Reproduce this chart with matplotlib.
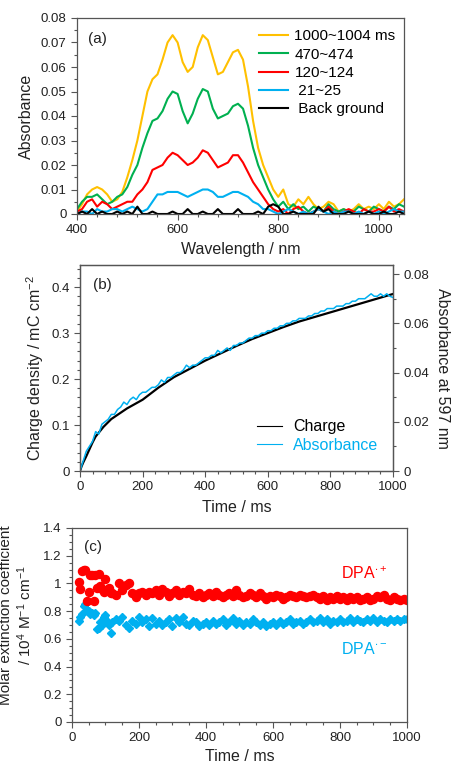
import numpy as np
import matplotlib
matplotlib.use('Agg')
import matplotlib.pyplot as plt
from matplotlib.ticker import MultipleLocator

plt.rcParams['font.family'] = ['Liberation Sans', 'DejaVu Sans']
plt.rcParams['mathtext.fontset'] = 'custom'
plt.rcParams['mathtext.rm'] = 'Liberation Sans'
plt.rcParams['mathtext.it'] = 'Liberation Sans'
plt.rcParams['mathtext.bf'] = 'Liberation Sans'

TXT = '#222222'
SPINE = '#555555'

# ---- (a) spectra, every 10 nm ----
wl = list(range(400, 1051, 10))
abs_1000 = [0.001, 0.004, 0.008, 0.010, 0.011, 0.010, 0.008, 0.005, 0.006, 0.009,
            0.015, 0.022, 0.030, 0.040, 0.050, 0.055, 0.057, 0.063, 0.070, 0.073,
            0.070, 0.062, 0.058, 0.060, 0.068, 0.073, 0.071, 0.064, 0.057, 0.058,
            0.062, 0.066, 0.067, 0.063, 0.052, 0.038, 0.027, 0.020, 0.015, 0.010,
            0.007, 0.010, 0.004, 0.003, 0.006, 0.004, 0.007, 0.004, 0.002, 0.003,
            0.005, 0.004, 0.001, 0.002, 0.001, 0.002, 0.004, 0.002, 0.003, 0.002,
            0.004, 0.002, 0.005, 0.003, 0.004, 0.006]
abs_470 = [0.002, 0.005, 0.007, 0.007, 0.008, 0.006, 0.004, 0.005, 0.007, 0.008,
           0.011, 0.016, 0.020, 0.027, 0.033, 0.038, 0.039, 0.042, 0.047, 0.050,
           0.049, 0.042, 0.037, 0.041, 0.047, 0.051, 0.050, 0.043, 0.039, 0.040,
           0.041, 0.044, 0.045, 0.043, 0.036, 0.027, 0.020, 0.015, 0.010, 0.006,
           0.003, 0.005, 0.002, 0.004, 0.002, 0.003, 0.001, 0.003, 0.002, 0.001,
           0.004, 0.002, 0.001, 0.002, 0.001, 0.001, 0.003, 0.002, 0.001, 0.003,
           0.002, 0.001, 0.003, 0.002, 0.004, 0.003]
abs_120 = [0.001, 0.002, 0.005, 0.006, 0.003, 0.005, 0.004, 0.002, 0.003, 0.004,
           0.005, 0.005, 0.008, 0.010, 0.013, 0.018, 0.019, 0.020, 0.023, 0.025,
           0.024, 0.022, 0.020, 0.021, 0.023, 0.026, 0.025, 0.022, 0.019, 0.020,
           0.021, 0.024, 0.024, 0.021, 0.017, 0.013, 0.010, 0.007, 0.004, 0.002,
           0.001, 0.002, 0.000, 0.002, 0.003, 0.001, 0.000, 0.001, 0.002, 0.001,
           0.003, 0.001, 0.000, 0.001, 0.002, 0.001, 0.000, 0.002, 0.001, 0.001,
           0.002, 0.001, 0.003, 0.001, 0.002, 0.001]
abs_21 = [0.000, 0.001, 0.001, 0.000, 0.002, 0.001, 0.001, 0.002, 0.002, 0.001,
          0.002, 0.003, 0.002, 0.001, 0.002, 0.005, 0.008, 0.008, 0.009, 0.009,
          0.009, 0.008, 0.007, 0.008, 0.009, 0.010, 0.010, 0.009, 0.007, 0.007,
          0.008, 0.009, 0.009, 0.008, 0.007, 0.005, 0.004, 0.002, 0.002, 0.001,
          0.000, 0.001, 0.002, 0.001, 0.000, 0.001, 0.000, 0.001, 0.002, 0.001,
          0.000, 0.001, 0.000, 0.001, 0.001, 0.000, 0.001, 0.000, 0.001, 0.000,
          0.001, 0.000, 0.001, 0.002, 0.001, 0.001]
abs_bg = [0.000, 0.001, 0.000, 0.002, 0.000, 0.001, 0.000, 0.000, 0.001, 0.000,
          0.001, 0.000, 0.003, 0.000, 0.000, 0.001, 0.000, 0.000, 0.000, 0.001,
          0.000, 0.000, 0.002, 0.000, 0.000, 0.001, 0.000, 0.000, 0.002, 0.000,
          0.000, 0.000, 0.002, 0.000, 0.000, 0.000, 0.001, 0.000, 0.003, 0.004,
          0.003, 0.000, 0.000, 0.001, 0.000, 0.000, 0.000, 0.000, 0.003, 0.001,
          0.002, 0.000, 0.000, 0.000, 0.001, 0.000, 0.000, 0.000, 0.001, 0.000,
          0.000, 0.001, 0.000, 0.000, 0.001, 0.000]

# ---- (b) charge and absorbance at 597 nm ----
t_charge = [0, 5, 10, 20, 30, 40, 50, 75, 100, 150, 200, 250, 300, 350, 400,
            450, 500, 550, 600, 650, 700, 750, 800, 850, 900, 950, 1000]
charge = [0, 0.010, 0.018, 0.032, 0.047, 0.062, 0.075, 0.096, 0.113, 0.136,
          0.155, 0.181, 0.204, 0.222, 0.240, 0.256, 0.272, 0.287, 0.300, 0.313,
          0.325, 0.335, 0.345, 0.355, 0.365, 0.375, 0.385]
t_abs = list(range(0, 1001, 10))
abs597 = [0.000, 0.004, 0.008, 0.010, 0.012, 0.016, 0.015, 0.019, 0.020, 0.021,
          0.023, 0.023, 0.025, 0.026, 0.028, 0.027, 0.029, 0.030, 0.029, 0.031,
          0.032, 0.032, 0.033, 0.034, 0.034, 0.035, 0.037, 0.036, 0.038, 0.038,
          0.039, 0.040, 0.040, 0.041, 0.043, 0.042, 0.043, 0.043, 0.044, 0.045,
          0.046, 0.046, 0.047, 0.047, 0.049, 0.048, 0.049, 0.050, 0.049, 0.051,
          0.051, 0.052, 0.052, 0.053, 0.054, 0.054, 0.055, 0.055, 0.056, 0.056,
          0.057, 0.057, 0.058, 0.058, 0.059, 0.059, 0.060, 0.060, 0.061, 0.061,
          0.062, 0.062, 0.062, 0.063, 0.063, 0.064, 0.064, 0.065, 0.065, 0.066,
          0.066, 0.066, 0.067, 0.067, 0.067, 0.068, 0.068, 0.069, 0.069, 0.070,
          0.070, 0.070, 0.071, 0.072, 0.071, 0.071, 0.072, 0.071, 0.072, 0.071,
          0.0705]

# ---- (c) molar extinction coefficients ----
t_early = [20, 25, 30, 35, 40, 45, 50, 55, 60, 65, 70, 75, 80, 85, 90, 95,
           100, 105, 110, 115, 120, 130, 140, 150, 160, 170, 180, 190]
t_late = list(range(200, 1001, 10))
eps_cat = [1.01, 0.96, 1.09, 1.10, 1.10, 0.87, 0.94, 1.06, 1.06, 0.87, 1.06, 0.97,
           1.07, 0.98, 0.96, 0.94, 1.03, 0.95, 0.97, 0.93, 0.93, 0.92, 1.00, 0.95,
           0.99, 1.00, 0.93, 0.90,
           0.93, 0.94, 0.92, 0.94, 0.93, 0.95, 0.92, 0.96, 0.94, 0.91,
           0.93, 0.95, 0.92, 0.94, 0.93, 0.96, 0.92, 0.91, 0.93, 0.90,
           0.92, 0.93, 0.91, 0.94, 0.92, 0.90, 0.92, 0.93, 0.91, 0.95,
           0.92, 0.90, 0.91, 0.93, 0.92, 0.90, 0.93, 0.91, 0.89, 0.91,
           0.90, 0.92, 0.91, 0.89, 0.90, 0.92, 0.91, 0.90, 0.92, 0.91,
           0.90, 0.91, 0.92, 0.90, 0.89, 0.91, 0.88, 0.90, 0.89, 0.91,
           0.89, 0.90, 0.88, 0.90, 0.89, 0.90, 0.88, 0.89, 0.90, 0.88,
           0.89, 0.91, 0.90, 0.92, 0.89, 0.88, 0.90, 0.89, 0.88, 0.89, 0.88]
eps_an = [0.73, 0.76, 0.78, 0.84, 0.85, 0.81, 0.80, 0.78, 0.79, 0.77, 0.79, 0.67,
          0.68, 0.72, 0.70, 0.76, 0.77, 0.73, 0.70, 0.64, 0.72, 0.74, 0.73, 0.76,
          0.70, 0.68, 0.73, 0.71,
          0.76, 0.72, 0.74, 0.69, 0.75, 0.71, 0.73, 0.70, 0.72, 0.74,
          0.69, 0.75, 0.72, 0.76, 0.71, 0.70, 0.73, 0.72, 0.69, 0.71,
          0.72, 0.70, 0.73, 0.71, 0.72, 0.74, 0.70, 0.72, 0.75, 0.71,
          0.73, 0.70, 0.72, 0.71, 0.74, 0.72, 0.70, 0.72, 0.69, 0.71,
          0.72, 0.70, 0.73, 0.71, 0.72, 0.74, 0.71, 0.72, 0.73, 0.71,
          0.72, 0.74, 0.72, 0.73, 0.75, 0.72, 0.74, 0.71, 0.73, 0.72,
          0.74, 0.72, 0.73, 0.75, 0.72, 0.74, 0.73, 0.72, 0.74, 0.73,
          0.75, 0.72, 0.74, 0.73, 0.72, 0.74, 0.73, 0.74, 0.73, 0.74, 0.74]
t_eps = t_early + t_late

W, H = 452, 766
fig = plt.figure(figsize=(W / 100, H / 100), dpi=100)

def box(l, r, t, b):
    return [l / W, 1 - b / H, (r - l) / W, (b - t) / H]

def style(ax):
    for s in ax.spines.values():
        s.set_color(SPINE)
        s.set_linewidth(0.9)
    ax.tick_params(which='both', direction='out', colors=SPINE, labelcolor=TXT,
                   labelsize=9.5, width=0.8)
    ax.tick_params(which='major', length=4)
    ax.tick_params(which='minor', length=2.5)

# (a)
ax1 = fig.add_axes(box(77, 404, 18, 214))
ax1.plot(wl, abs_1000, color='#FFC000', lw=1.5, label='1000~1004 ms')
ax1.plot(wl, abs_470, color='#00B050', lw=1.5, label='470~474')
ax1.plot(wl, abs_120, color='#FF0000', lw=1.5, label='120~124')
ax1.plot(wl, abs_21, color='#00B0F0', lw=1.5, label=' 21~25')
ax1.plot(wl, abs_bg, color='black', lw=1.5, label=' Back ground')
ax1.set_xlim(400, 1050)
ax1.set_ylim(0, 0.08)
ax1.xaxis.set_major_locator(MultipleLocator(200))
ax1.xaxis.set_minor_locator(MultipleLocator(40))
ax1.yaxis.set_major_locator(MultipleLocator(0.01))
ax1.yaxis.set_minor_locator(MultipleLocator(0.005))
ax1.set_yticklabels(['0' if v == 0 else f'{v:.2f}' for v in ax1.get_yticks()])
style(ax1)
ax1.set_xlabel('Wavelength / nm', fontsize=11.5, color=TXT, labelpad=4)
ax1.set_ylabel('Absorbance', fontsize=11.5, color=TXT, labelpad=5)
ax1.text(0.035, 0.93, '(a)', transform=ax1.transAxes, fontsize=11, color=TXT,
         va='top')
ax1.legend(loc='upper right', frameon=False, fontsize=11, handlelength=1.9,
           handletextpad=0.4, labelspacing=0.28, borderaxespad=0.15,
           bbox_to_anchor=(1.0, 0.985))

# (b)
ax2 = fig.add_axes(box(80, 393, 265, 471))
ax2.plot(t_charge, charge, color='black', lw=1.6, label='Charge')
ax2.set_xlim(0, 1000)
ax2.set_ylim(0, 0.448)
ax2.xaxis.set_major_locator(MultipleLocator(200))
ax2.xaxis.set_minor_locator(MultipleLocator(40))
ax2.yaxis.set_major_locator(MultipleLocator(0.1))
ax2.yaxis.set_minor_locator(MultipleLocator(0.02))
ax2.set_yticklabels(['0' if v == 0 else f'{v:.1f}' for v in ax2.get_yticks()])
style(ax2)
ax2.set_xlabel('Time / ms', fontsize=11.5, color=TXT, labelpad=5)
ax2.set_ylabel('Charge density / mC cm$^{-2}$', fontsize=11.5, color=TXT,
               labelpad=4)
ax2.text(0.04, 0.935, '(b)', transform=ax2.transAxes, fontsize=11, color=TXT,
         va='top')
ax2r = ax2.twinx()
ax2r.plot(t_abs, abs597, color='#00B0F0', lw=1.1, label='Absorbance')
ax2r.set_ylim(0, 0.0837)
ax2r.yaxis.set_major_locator(MultipleLocator(0.02))
ax2r.yaxis.set_minor_locator(MultipleLocator(0.01))
ax2r.set_yticklabels(['0' if v == 0 else f'{v:.2f}' for v in ax2r.get_yticks()])
style(ax2r)
ax2r.set_ylabel('Absorbance at 597 nm', fontsize=11.5, color=TXT, rotation=270,
                labelpad=15)
h1, l1 = ax2.get_legend_handles_labels()
h2, l2 = ax2r.get_legend_handles_labels()
leg = ax2r.legend(h1 + h2, l1 + l2, loc='lower right', frameon=False,
                  fontsize=11.5, handlelength=1.6, handletextpad=0.7,
                  labelspacing=0.2, bbox_to_anchor=(1.0, 0.02))
for h in leg.get_lines():
    h.set_linewidth(0.8)
leg.get_texts()[0].set_color('black')
leg.get_texts()[1].set_color('#00B0F0')

# (c)
ax3 = fig.add_axes(box(72, 407, 528, 722))
ax3.plot(t_eps, eps_an, linestyle='none', marker='D', ms=4.2, color='#00B0F0',
         mec='#00B0F0')
ax3.plot(t_eps, eps_cat, linestyle='none', marker='o', ms=5.8, color='#FF0000',
         mec='#FF0000')
ax3.set_xlim(0, 1000)
ax3.set_ylim(0, 1.4)
ax3.xaxis.set_major_locator(MultipleLocator(200))
ax3.xaxis.set_minor_locator(MultipleLocator(50))
ax3.yaxis.set_major_locator(MultipleLocator(0.2))
ax3.yaxis.set_minor_locator(MultipleLocator(0.05))
ax3.set_yticklabels(['0' if v == 0 else ('1' if abs(v - 1) < 1e-9 else f'{v:.1f}')
                     for v in ax3.get_yticks()])
style(ax3)
ax3.set_xlabel('Time / ms', fontsize=11.5, color=TXT, labelpad=3)
ax3.set_ylabel('Molar extinction coefficient\n/ 10$^{4}$ M$^{-1}$ cm$^{-1}$',
               fontsize=11, color=TXT, linespacing=1.2)
ax3.yaxis.set_label_coords(-0.112, 0.55)
ax3.text(0.035, 0.94, '(c)', transform=ax3.transAxes, fontsize=11, color=TXT,
         va='top')
ax3.text(0.94, 1.07, r'DPA$^{\bullet+}$', transform=ax3.get_yaxis_transform(),
         fontsize=11.5, color='#FF0000', ha='right', va='center')
ax3.text(0.94, 0.53, r'DPA$^{\bullet-}$', transform=ax3.get_yaxis_transform(),
         fontsize=11.5, color='#00B0F0', ha='right', va='center')

fig.savefig('out.png', dpi=100)
